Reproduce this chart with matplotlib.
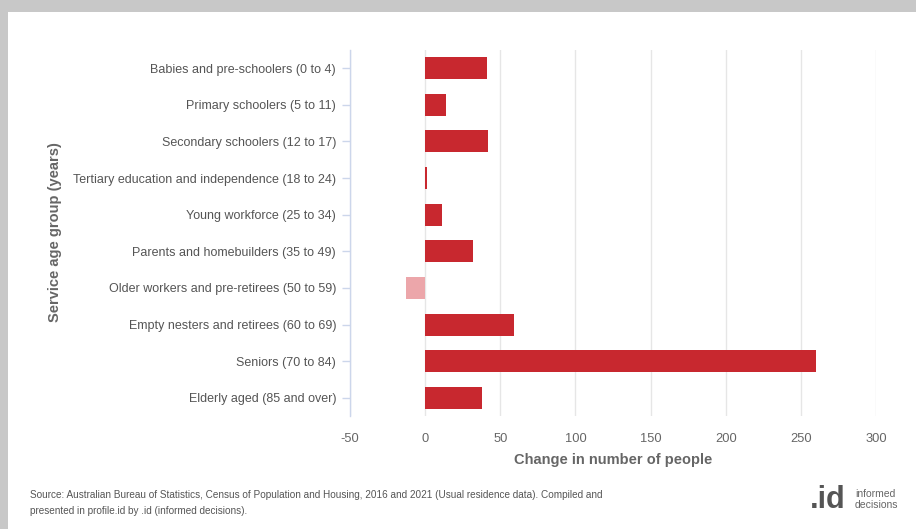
import matplotlib
matplotlib.use("Agg")
import matplotlib.pyplot as plt
from matplotlib.patches import Rectangle

categories = [
    "Babies and pre-schoolers (0 to 4)",
    "Primary schoolers (5 to 11)",
    "Secondary schoolers (12 to 17)",
    "Tertiary education and independence (18 to 24)",
    "Young workforce (25 to 34)",
    "Parents and homebuilders (35 to 49)",
    "Older workers and pre-retirees (50 to 59)",
    "Empty nesters and retirees (60 to 69)",
    "Seniors (70 to 84)",
    "Elderly aged (85 and over)",
]
values = [41, 14, 42, 1, 11, 32, -13, 59, 260, 38]
x_ticks = [-50, 0, 50, 100, 150, 200, 250, 300]

plt.rcParams['font.family'] = ['Liberation Sans', 'DejaVu Sans']

fig = plt.figure(figsize=(9.16, 5.29), dpi=100)
fig.patch.set_facecolor("#c8c8c8")
# white card
card = Rectangle((8/916, 0), 1, 1 - 12/529, transform=fig.transFigure,
                 facecolor="white", edgecolor="none", zorder=-10)
fig.add_artist(card)

ax = fig.add_axes([350/916, 1 - 416.3/529, (876-350)/916, (416.3-49.7)/529])
ax.set_zorder(5)
ax.set_facecolor("white")

pos_color = "#c8282f"
neg_color = "#eca6aa"
colors = [pos_color if v >= 0 else neg_color for v in values]
y = list(range(len(categories)))
ax.barh(y, values, height=0.6, color=colors, edgecolor="none", zorder=3)

ax.set_ylim(len(categories) - 0.5, -0.5)
ax.set_xlim(-50, 300)
ax.set_xticks(x_ticks)
ax.set_xticklabels([str(t) for t in x_ticks])
ax.set_yticks(y)
ax.set_yticklabels(categories)

ax.grid(axis="x", color="#e6e6e6", linewidth=1, zorder=0)
ax.grid(axis="y", visible=False)
for s in ["top", "right", "bottom"]:
    ax.spines[s].set_visible(False)
ax.spines["left"].set_color("#ccd6eb")
ax.spines["left"].set_linewidth(1)

ax.tick_params(axis="y", length=6, width=1, color="#ccd6eb", pad=4,
               labelsize=9.0, labelcolor="#555555")
ax.tick_params(axis="x", length=0, pad=12, labelsize=9.3, labelcolor="#666666")

ax.set_xlabel("Change in number of people", fontsize=10.5, fontweight="bold",
              color="#666666", labelpad=6)
fig.text(55/916, 1 - 232/529, "Service age group (years)", rotation=90,
         ha="center", va="center", fontsize=10.5, fontweight="bold", color="#666666")

fig.text(30/916, 1 - 495/529,
         "Source: Australian Bureau of Statistics, Census of Population and Housing, 2016 and 2021 (Usual residence data). Compiled and",
         fontsize=7.2, color="#555555", va="center", ha="left")
fig.text(30/916, 1 - 511/529,
         "presented in profile.id by .id (informed decisions).",
         fontsize=7.2, color="#555555", va="center", ha="left")

fig.text(846/916, 1 - 500/529, ".id", fontsize=22, fontweight="bold",
         color="#555555", ha="right", va="center")
fig.text(855/916, 1 - 494/529, "informed", fontsize=7.5, color="#666666",
         ha="left", va="center")
fig.text(855/916, 1 - 505/529, "decisions", fontsize=7.5, color="#666666",
         ha="left", va="center")

fig.savefig("out.png", dpi=100, facecolor=fig.get_facecolor())
